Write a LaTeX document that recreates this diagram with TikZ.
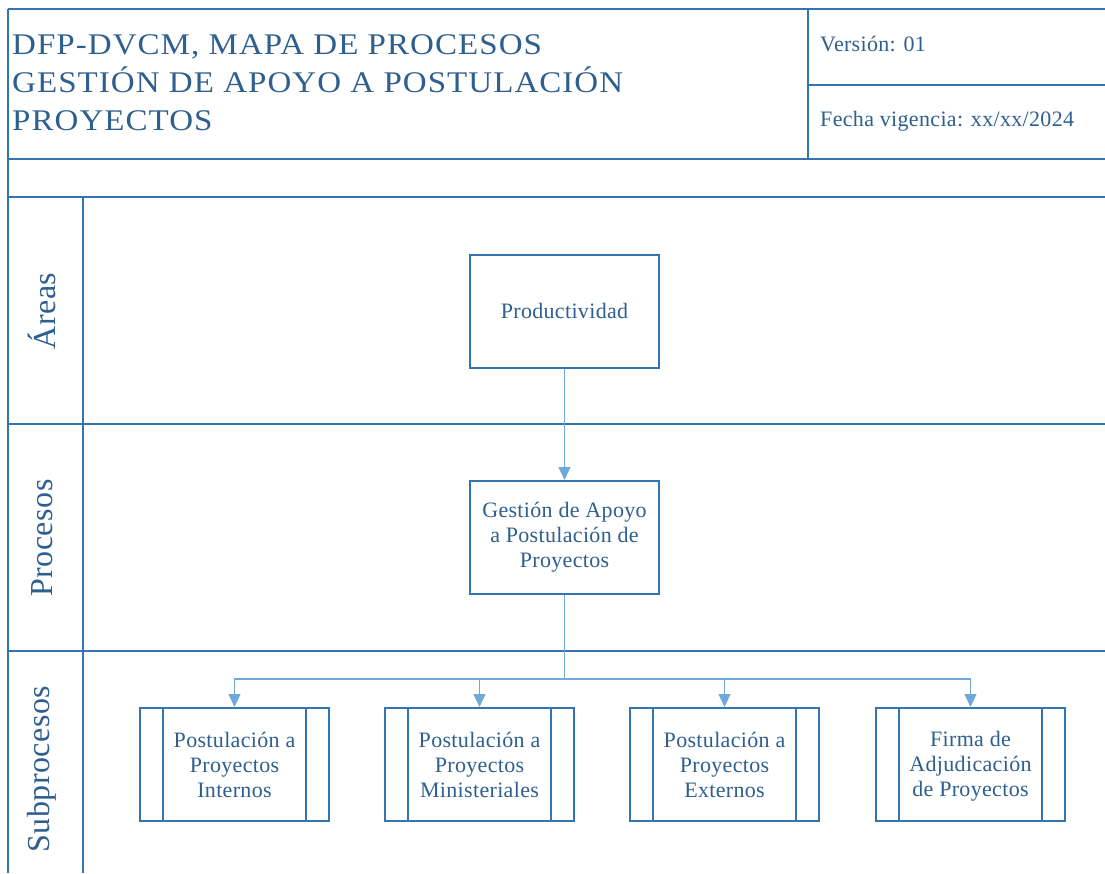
\documentclass[tikz,border=0pt]{standalone}
\usepackage{fontspec}
\setmainfont[LetterSpace=1.5]{Liberation Serif}
\newfontfamily\titlefont[LetterSpace=3.5,FakeStretch=1.1]{Liberation Serif}
\usetikzlibrary{arrows.meta}
\definecolor{txt}{HTML}{2E5F8E}
\definecolor{framec}{HTML}{3574B3}
\definecolor{connc}{HTML}{70A8DB}
\begin{document}
\begin{tikzpicture}[x=1pt,y=-1pt,
  frameline/.style={draw=framec,line width=2pt},
  box/.style={draw=framec,line width=2pt,minimum width=189pt,minimum height=113pt,
    inner sep=0pt,align=center,text=txt,font=\fontsize{22}{25}\selectfont},
  subbox/.style={box,path picture={
    \draw[framec,line width=2pt]
      ([xshift=23pt]path picture bounding box.north west) -- ([xshift=23pt]path picture bounding box.south west)
      ([xshift=-23pt]path picture bounding box.north east) -- ([xshift=-23pt]path picture bounding box.south east);}},
  link/.style={draw=connc,line width=1.2pt,-{Triangle[width=12pt,length=13pt]}},
  plainlink/.style={draw=connc,line width=1.2pt},
  lane/.style={rotate=90,text=txt,inner sep=0pt,font=\fontsize{32}{38}\selectfont},
  hdr/.style={anchor=west,text=txt,inner sep=0pt,font=\fontsize{22}{25}\selectfont}
]
\useasboundingbox (0,0) rectangle (1105,873);
\fill[white] (0,0) rectangle (1105,873);

% frame
\draw[frameline] (8,9) -- (1105,9);
\draw[frameline] (8,9) -- (8,873);
\draw[frameline,line width=1.5pt] (808,9) -- (808,159);
\draw[frameline] (808,85) -- (1105,85);
\draw[frameline] (8,159) -- (1105,159);
\draw[frameline] (8,197) -- (1105,197);
\draw[frameline] (83,197) -- (83,873);
\draw[frameline] (8,424) -- (1105,424);
\draw[frameline] (8,651) -- (1105,651);

% header
\node[anchor=north west,align=left,text=txt,inner sep=0pt,
      font=\titlefont\fontsize{30}{38}\selectfont] (title) at (12,34)
  {DFP-DVCM, MAPA DE PROCESOS\\GESTIÓN DE APOYO A POSTULACIÓN\\PROYECTOS};
\node[hdr] (ver) at (820,44) {Versión: 01};
\node[hdr] (fecha) at (820,121) {Fecha vigencia: xx/xx/2024};

% lane labels
\node[lane] (lareas) at (42,311) {Áreas};
\node[lane] (lproc) at (42,538) {Procesos};
\node[lane] (lsub) at (42,769) {Subprocesos};

% nodes
\node[box] (prod) at (564.5,311) {Productividad};
\node[box] (gest) at (564.5,537.5) {Gestión de Apoyo\\a Postulación de\\Proyectos};
\node[subbox] (s1) at (234.5,764.5) {Postulación a\\Proyectos\\Internos};
\node[subbox] (s2) at (479.5,764.5) {Postulación a\\Proyectos\\Ministeriales};
\node[subbox] (s3) at (724.5,764.5) {Postulación a\\Proyectos\\Externos};
\node[subbox] (s4) at (970.5,764.5) {Firma de\vphantom{Ó}\\Adjudicación\\de Proyectos};

% connectors
\draw[link] (prod.south) -- (gest.north);
\coordinate (j) at (564.5,679);
\draw[plainlink] (gest.south) -- (j);
\draw[link] (j) -| (s1.north);
\draw[link] (j) -| (s2.north);
\draw[link] (j) -| (s3.north);
\draw[link] (j) -| (s4.north);
\end{tikzpicture}
\end{document}
